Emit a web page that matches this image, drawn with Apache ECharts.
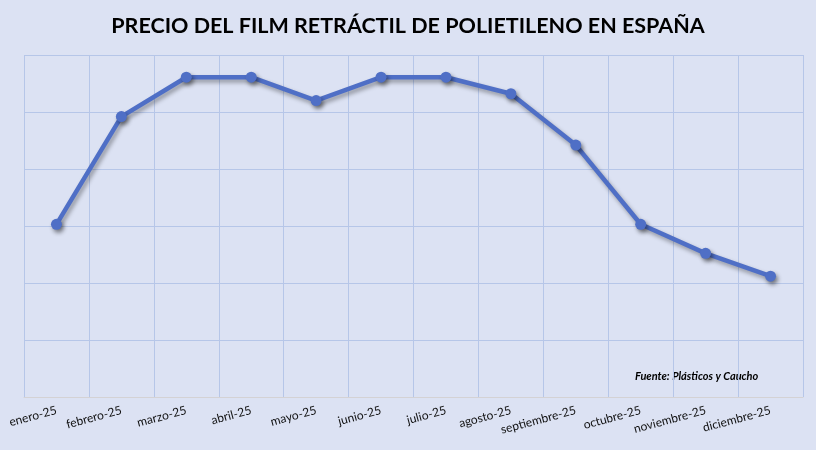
<!DOCTYPE html>
<html>
<head>
<meta charset="utf-8">
<script src="https://cdn.jsdelivr.net/npm/echarts@6/dist/echarts.min.js"></script>
<style>
html,body{margin:0;padding:0;background:#dce2f3;}
#c{width:816px;height:450px;}
</style>
</head>
<body>
<div id="c"></div>
<script>
var categories = ['enero-25','febrero-25','marzo-25','abril-25','mayo-25','junio-25','julio-25','agosto-25','septiembre-25','octubre-25','noviembre-25','diciembre-25'];
var precios = [3.03, 4.92, 5.61, 5.61, 5.2, 5.61, 5.61, 5.32, 4.42, 3.03, 2.52, 2.12];
var titulo = 'PRECIO DEL FILM RETRÁCTIL DE POLIETILENO EN ESPAÑA';
var fuente = 'Fuente: Plásticos y Caucho';

var chart = echarts.init(document.getElementById('c'));
chart.setOption({
  backgroundColor: '#dce2f3',
  animation: false,
  title: {
    text: titulo,
    left: 'center',
    top: 10,
    textStyle: {fontFamily: 'Lato', fontWeight: 'bold', fontSize: 21.5, color: '#000'}
  },
  grid: {left: 24, right: 13, top: 55, bottom: 53, containLabel: false},
  xAxis: {
    type: 'category',
    data: categories,
    boundaryGap: true,
    axisLine: {show: true, lineStyle: {color: '#d4d2d4', width: 1}},
    axisTick: {show: false},
    splitLine: {show: true, interval: 0, lineStyle: {color: '#b6c6e8', width: 1}},
    axisLabel: {interval: 0, rotate: 15, fontFamily: 'Lato', fontSize: 12, color: '#111', margin: 13}
  },
  yAxis: {
    type: 'value',
    min: 0, max: 6, interval: 1,
    axisLine: {show: false},
    axisTick: {show: false},
    axisLabel: {show: false},
    splitLine: {show: true, lineStyle: {color: '#b6c6e8', width: 1}}
  },
  graphic: [{
    type: 'text',
    left: 635, top: 371,
    style: {text: fuente, fontFamily: 'Lato', fontWeight: 'bold', fontStyle: 'italic', fontSize: 11, fill: '#000'}
  }],
  series: [{
    type: 'line',
    data: precios,
    symbol: 'circle',
    symbolSize: 11,
    lineStyle: {color: '#4f6fc6', width: 4.5, shadowColor: 'rgba(0,0,0,0.35)', shadowBlur: 4, shadowOffsetX: 2, shadowOffsetY: 3},
    itemStyle: {color: '#4f6fc6', shadowColor: 'rgba(0,0,0,0.45)', shadowBlur: 4, shadowOffsetX: 2, shadowOffsetY: 3}
  }]
});
</script>
</body>
</html>
